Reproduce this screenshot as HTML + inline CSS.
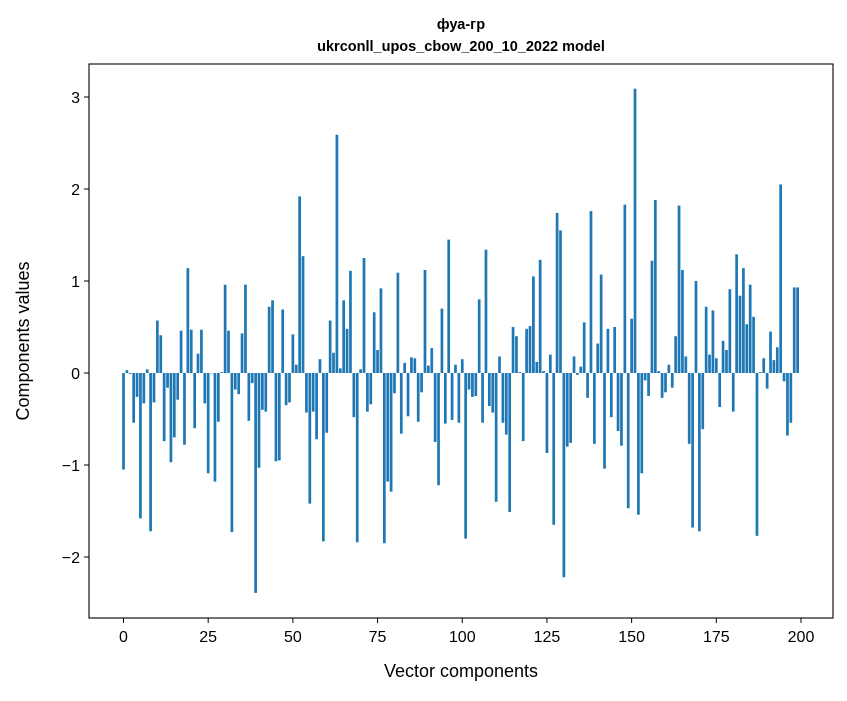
<!DOCTYPE html>
<html><head><meta charset="utf-8"><style>
body{margin:0;background:#fff;}
svg text{font-family:"Liberation Sans","DejaVu Sans",sans-serif;fill:#000;}
</style></head><body>
<svg id="chart" width="847" height="696" viewBox="0 0 847 696" xmlns="http://www.w3.org/2000/svg">
<rect width="847" height="696" fill="#fff"/>
<text x="461" y="29" text-anchor="middle" font-size="14.5" font-weight="bold">фуа-гр</text>
<text x="461" y="51" text-anchor="middle" font-size="14.5" font-weight="bold">ukrconll_upos_cbow_200_10_2022 model</text>
<g id="bars"></g>
<g id="axes"></g>
<rect x="89" y="64" width="744" height="554" fill="none" stroke="#000" stroke-width="1.1"/>
<text x="461" y="677" text-anchor="middle" font-size="18">Vector components</text>
<text transform="translate(29,341) rotate(-90)" text-anchor="middle" font-size="18">Components values</text>
</svg>
<script>
const values = [
-1.05,0.03,-0.01,-0.54,-0.26,-1.58,-0.33,0.04,-1.72,-0.32,
0.57,0.41,-0.74,-0.16,-0.97,-0.70,-0.29,0.46,-0.78,1.14,
0.47,-0.60,0.21,0.47,-0.33,-1.09,0.0,-1.18,-0.53,0.01,
0.96,0.46,-1.73,-0.18,-0.23,0.43,0.96,-0.52,-0.11,-2.39,
-1.03,-0.40,-0.42,0.72,0.79,-0.96,-0.95,0.69,-0.35,-0.32,
0.42,0.09,1.92,1.27,-0.43,-1.42,-0.42,-0.72,0.15,-1.83,
-0.65,0.57,0.22,2.59,0.05,0.79,0.48,1.11,-0.48,-1.84,
0.04,1.25,-0.42,-0.34,0.66,0.25,0.92,-1.85,-1.18,-1.29,
-0.22,1.09,-0.66,0.11,-0.47,0.17,0.16,-0.53,-0.21,1.12,
0.08,0.27,-0.75,-1.22,0.70,-0.55,1.45,-0.51,0.09,-0.54,
0.15,-1.80,-0.18,-0.26,-0.25,0.80,-0.54,1.34,-0.36,-0.43,
-1.40,0.18,-0.54,-0.67,-1.51,0.50,0.40,0.01,-0.74,0.48,
0.51,1.05,0.12,1.23,0.02,-0.87,0.20,-1.65,1.74,1.55,
-2.22,-0.80,-0.76,0.18,-0.02,0.07,0.55,-0.27,1.76,-0.77,
0.32,1.07,-1.04,0.48,-0.48,0.50,-0.63,-0.79,1.83,-1.47,
0.59,3.09,-1.54,-1.09,-0.08,-0.25,1.22,1.88,0.02,-0.27,
-0.21,0.09,-0.16,0.40,1.82,1.12,0.18,-0.77,-1.68,1.00,
-1.72,-0.61,0.72,0.20,0.68,0.16,-0.37,0.35,0.25,0.91,
-0.42,1.29,0.84,1.14,0.53,0.96,0.61,-1.77,0.01,0.16,
-0.17,0.45,0.14,0.28,2.05,-0.09,-0.68,-0.54,0.93,0.93
];
const xTicks = [0,25,50,75,100,125,150,175,200];
const yTicks = [-2,-1,0,1,2,3];

const NS="http://www.w3.org/2000/svg";
const xs = v => 123.5 + v*3.3875;
const ys = v => 373 - v*92;
const bars=document.getElementById('bars');
values.forEach((v,i)=>{
  const r=document.createElementNS(NS,'rect');
  const y0=Math.min(ys(v),ys(0)), h=Math.abs(ys(v)-ys(0));
  r.setAttribute('x',xs(i-0.4));
  r.setAttribute('y',y0);
  r.setAttribute('width',0.8*3.3875);
  r.setAttribute('height',Math.max(h,0.3));
  r.setAttribute('fill','#1f77b4');
  
  
  bars.appendChild(r);
});
const axes=document.getElementById('axes');
xTicks.forEach(t=>{
  const l=document.createElementNS(NS,'line');
  l.setAttribute('x1',xs(t));l.setAttribute('x2',xs(t));
  l.setAttribute('y1',618);l.setAttribute('y2',623);
  l.setAttribute('stroke','#000');
  
  
  axes.appendChild(l);
  const tx=document.createElementNS(NS,'text');
  tx.setAttribute('x',xs(t));tx.setAttribute('y',642);
  tx.setAttribute('text-anchor','middle');tx.setAttribute('font-size','16');
  tx.textContent=t;
  
  
  axes.appendChild(tx);
});
yTicks.forEach(t=>{
  const l=document.createElementNS(NS,'line');
  l.setAttribute('x1',84);l.setAttribute('x2',89);
  l.setAttribute('y1',ys(t));l.setAttribute('y2',ys(t));
  l.setAttribute('stroke','#000');
  
  
  axes.appendChild(l);
  const tx=document.createElementNS(NS,'text');
  tx.setAttribute('x',80);tx.setAttribute('y',ys(t)+6);
  tx.setAttribute('text-anchor','end');tx.setAttribute('font-size','16');
  tx.textContent=t<0?'\u2212'+Math.abs(t):String(t);
  
  
  axes.appendChild(tx);
});
</script>
</body></html>
